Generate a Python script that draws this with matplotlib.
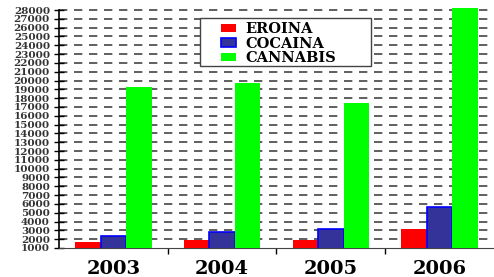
import matplotlib
matplotlib.use("Agg")
import matplotlib.pyplot as plt
from matplotlib.patches import Rectangle
import numpy as np

years = ["2003", "2004", "2005", "2006"]
eroina = [1700, 1900, 1900, 3100]
cocaina = [2400, 2800, 3100, 5600]
cannabis = [19300, 19700, 17400, 28200]

plt.rcParams["font.family"] = ["DejaVu Serif"]

fig = plt.figure(figsize=(4.94, 2.77), dpi=100)
ax = fig.add_axes([0.1194, 0.1047, 0.8806, 0.8664])

x = np.arange(len(years))
w = 0.235
ax.bar(x - w, eroina, w, color="#ff0000", label="EROINA", zorder=3)
ax.bar(x, cocaina, w, color="#333399", edgecolor="#0000ff", linewidth=1.2, label="COCAINA", zorder=3)
ax.bar(x + w, cannabis, w, color="#00ff00", label="CANNABIS", zorder=3)

ax.set_ylim(1000, 28230)
ax.set_xlim(-0.5, 3.5)
ax.set_yticks(np.arange(1000, 28001, 1000))
ax.tick_params(axis="y", labelsize=7.5, direction="inout", length=7, width=1, pad=3)
for t in ax.get_yticklabels():
    t.set_fontweight("bold")
    t.set_color("#333333")

ax.set_xticks(x)
ax.set_xticklabels(years, fontsize=14, fontweight="bold")
ax.tick_params(axis="x", length=0, pad=9)
ax.set_xticks([0.5, 1.5, 2.5], minor=True)
ax.tick_params(axis="x", which="minor", length=4, direction="out", width=1)

ax.yaxis.grid(True, linestyle=(0, (5, 4)), color="#444444", linewidth=1.2)
ax.yaxis.get_gridlines()[0].set_visible(False)
ax.set_axisbelow(True)

ax.spines["top"].set_visible(False)
ax.spines["right"].set_visible(False)
ax.spines["left"].set_linewidth(1.2)
ax.spines["left"].set_bounds(1000, 28000)
ax.spines["bottom"].set_color("#444444")

# legend box
box = Rectangle((200 / 494, 1 - 66 / 277), 171 / 494, 48 / 277, transform=fig.transFigure,
                facecolor="white", edgecolor="#444444", linewidth=1.0, zorder=4, clip_on=False)
ax.add_patch(box)
leg = ax.legend(loc="upper left", bbox_to_anchor=(221 / 494, 1 - 22 / 277),
                bbox_transform=fig.transFigure, frameon=False,
                handlelength=1.03, handleheight=0.5, prop={"weight": "bold", "size": 10.5},
                borderpad=0, labelspacing=0.05, handletextpad=0.62, borderaxespad=0)
leg.set_zorder(5)

fig.savefig("out.png", dpi=100)
